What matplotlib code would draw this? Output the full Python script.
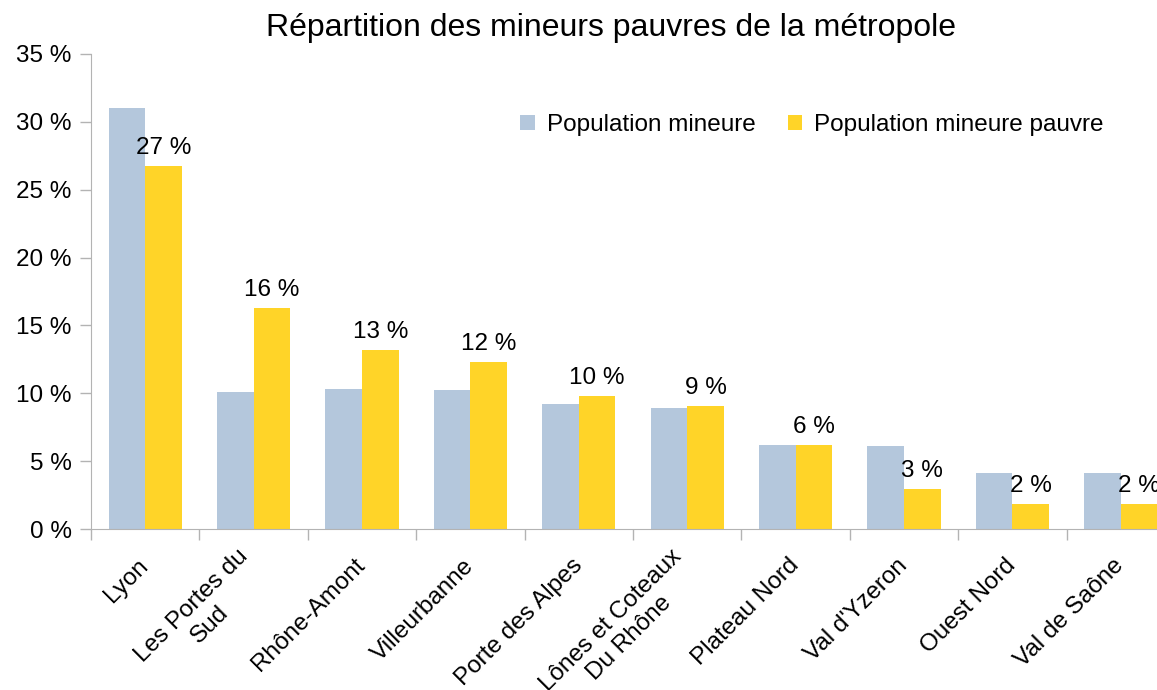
import matplotlib
matplotlib.use("Agg")
import matplotlib.pyplot as plt
import numpy as np
from matplotlib.ticker import FixedLocator

plt.rcParams['font.family'] = ['Liberation Sans', 'DejaVu Sans']

# data
zones = ["Lyon", "Les Portes du\nSud", "Rhône-Amont", "Villeurbanne", "Porte des Alpes",
         "Lônes et Coteaux\nDu Rhône", "Plateau Nord", "Val d'Yzeron", "Ouest Nord", "Val de Saône"]
pop_mineure = [31.0, 10.1, 10.3, 10.25, 9.2, 8.9, 6.2, 6.1, 4.1, 4.1]
pop_pauvre = [26.75, 16.3, 13.2, 12.3, 9.8, 9.06, 6.2, 2.95, 1.85, 1.85]

blue = "#b4c7dc"
yellow = "#ffd428"
grey = "#b3b3b3"
fs = 17.5

W, H = 1157, 690
fig = plt.figure(figsize=(W / 100, H / 100), dpi=100)
ax = fig.add_axes([91 / W, 161 / H, 1084 / W, 475 / H])

x = np.arange(len(zones))
w = 0.337
ax.bar(x - w / 2, pop_mineure, w, color=blue, label="Population mineure")
b2 = ax.bar(x + w / 2, pop_pauvre, w, color=yellow, label="Population mineure pauvre")

for rect, v in zip(b2, pop_pauvre):
    ax.annotate(f"{round(v)} %", (rect.get_x() + rect.get_width() / 2, rect.get_height()),
                xytext=(0, 5), textcoords="offset points", ha="center", va="bottom", fontsize=fs)

ax.set_xlim(-0.5, len(zones) - 0.5)
ax.set_ylim(0, 35)
ax.set_yticks(range(0, 36, 5))
ax.set_yticklabels([f"{t} %" for t in range(0, 36, 5)], fontsize=fs)

ax.set_xticks(x)
ax.set_xticklabels(zones, rotation=45, ha="right", va="center", rotation_mode="anchor",
                   multialignment="center", fontsize=fs)
ax.xaxis.set_minor_locator(FixedLocator(np.arange(-0.5, len(zones), 1)))
ax.tick_params(axis="x", which="major", length=0, pad=24)
ax.tick_params(axis="x", which="minor", length=8, color=grey, width=1)
ax.tick_params(axis="y", length=8, color=grey, width=1, pad=6)

for s in ["top", "right"]:
    ax.spines[s].set_visible(False)
for s in ["left", "bottom"]:
    ax.spines[s].set_color(grey)

ax.legend(loc="upper left", bbox_to_anchor=(0.376, 0.92), ncol=2, frameon=False, fontsize=fs,
          handlelength=0.6, handleheight=0.6, handletextpad=0.5, columnspacing=1.3)

fig.text(0.5285, 0.96, "Répartition des mineurs pauvres de la métropole", ha="center", va="center",
         fontsize=23)

fig.savefig("out.png", dpi=100)
